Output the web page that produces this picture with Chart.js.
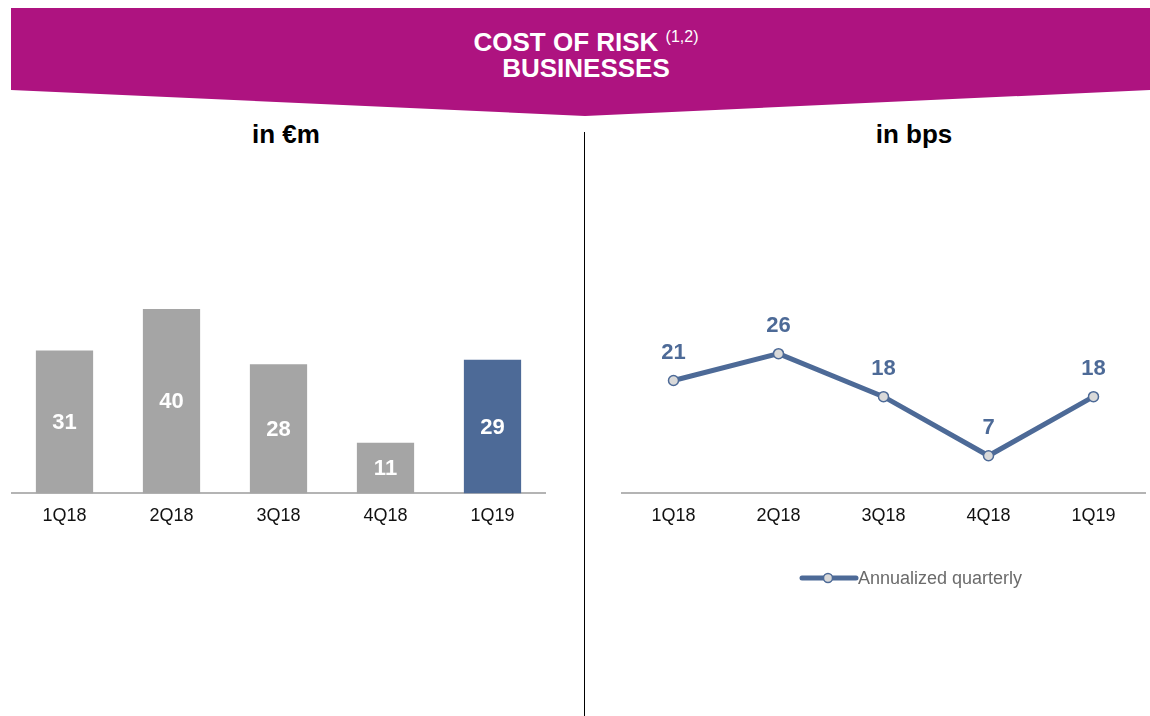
<!DOCTYPE html>
<html>
<head>
<meta charset="utf-8">
<script src="https://cdn.jsdelivr.net/npm/chart.js@4.4.0/dist/chart.umd.min.js"></script>
<style>
    body { margin: 0; width: 1150px; height: 716px; background: #fff; overflow: hidden; position: relative; font-family: "Liberation Sans", Arial, sans-serif; }
    .banner { position: absolute; left: 11px; top: 8px; width: 1139px; height: 108px; background: #ae1380;
        clip-path: polygon(0 0, 100% 0, 100% 82px, 574px 100%, 0 82px); }
    .banner-text { position: absolute; left: 11px; top: 29px; width: 1150px; text-align: center; color: #fff; font-weight: bold; font-size: 26px; line-height: 26px; }
    .banner-text sup { font-size: 16px; font-weight: normal; vertical-align: 9px; line-height: 0; }
    .sub { position: absolute; top: 119px; width: 300px; font-size: 26px; font-weight: bold; color: #000; text-align: center; }
    .divider { position: absolute; left: 584px; top: 132px; width: 1px; height: 584px; background: #000; }
    canvas { position: absolute; }
</style>
</head>
<body>
<div class="banner"></div>
<div class="banner-text">COST OF RISK <sup>(1,2)</sup><br>BUSINESSES</div>
<div class="sub" style="left:136px;">in €m</div>
<div class="sub" style="left:764px;">in bps</div>
<div class="divider"></div>
<div style="position:absolute;left:11px;top:180px;width:535px;height:430px;"><canvas id="barChart"></canvas></div>
<div style="position:absolute;left:621px;top:180px;width:525px;height:430px;"><canvas id="lineChart"></canvas></div>

<script>
const quarters = ["1Q18", "2Q18", "3Q18", "4Q18", "1Q19"];
const costEur = [31, 40, 28, 11, 29];
const costBps = [21, 26, 18, 7, 18];
const bpsSeriesName = "Annualized quarterly";

const grey = "#a5a5a5";
const blue = "#4d6a97";
const font = "'Liberation Sans', Arial, sans-serif";

// values written on the marks
const valueLabels = {
    id: "valueLabels",
    afterDatasetsDraw(chart) {
        const ctx = chart.ctx;
        ctx.save();
        ctx.font = "bold 22px " + font;
        ctx.textAlign = "center";
        ctx.textBaseline = "middle";
        chart.data.datasets.forEach(function (ds, i) {
            chart.getDatasetMeta(i).data.forEach(function (el, j) {
                if (chart.config.type === "bar") {
                    ctx.fillStyle = "#fff";
                    ctx.fillText(ds.data[j], el.x, (el.y + el.base) / 2 + 1);
                } else {
                    ctx.fillStyle = blue;
                    ctx.fillText(ds.data[j], el.x, el.y - 28);
                }
            });
        });
        ctx.restore();
    }
};

// line + marker legend under the line chart
const lineLegend = {
    id: "lineLegend",
    afterDraw(chart) {
        const ctx = chart.ctx;
        const ds = chart.data.datasets[0];
        const y = 398, x0 = 181, x1 = 235, mx = 207;
        ctx.save();
        ctx.strokeStyle = ds.borderColor;
        ctx.lineWidth = 5;
        ctx.lineCap = "round";
        ctx.beginPath();
        ctx.moveTo(x0, y);
        ctx.lineTo(x1, y);
        ctx.stroke();
        ctx.beginPath();
        ctx.arc(mx, y, 4.5, 0, Math.PI * 2);
        ctx.fillStyle = ds.pointBackgroundColor;
        ctx.fill();
        ctx.lineWidth = 1.5;
        ctx.stroke();
        ctx.font = "18px " + font;
        ctx.fillStyle = "#6b6b6b";
        ctx.textAlign = "left";
        ctx.textBaseline = "middle";
        ctx.fillText(ds.label, x1 + 2, y + 1);
        ctx.restore();
    }
};

const xAxis = {
    offset: true,
    grid: { display: false, drawTicks: false, tickLength: 0 },
    border: { display: true, color: "#b4b4b4", width: 2 },
    ticks: { color: "#111", padding: 12, font: { size: 18, family: font } }
};

new Chart(document.getElementById("barChart"), {
    type: "bar",
    data: {
        labels: quarters,
        datasets: [{
            data: costEur,
            backgroundColor: costEur.map(function (v, i) { return i === costEur.length - 1 ? blue : grey; }),
            categoryPercentage: 1,
            barPercentage: 0.535
        }]
    },
    options: {
        responsive: true,
        maintainAspectRatio: false,
        animation: false,
        layout: { autoPadding: false, padding: { top: 0, bottom: 71, left: 0, right: 0 } },
        plugins: { legend: { display: false }, tooltip: { enabled: false } },
        scales: {
            x: xAxis,
            y: { display: false, min: 0, max: 68 }
        }
    },
    plugins: [valueLabels]
});

new Chart(document.getElementById("lineChart"), {
    type: "line",
    data: {
        labels: quarters,
        datasets: [{
            label: bpsSeriesName,
            data: costBps,
            borderColor: blue,
            borderWidth: 5,
            pointRadius: 5,
            pointBorderWidth: 1.5,
            pointBackgroundColor: "#d9d9d9",
            pointBorderColor: blue,
            tension: 0
        }]
    },
    options: {
        responsive: true,
        maintainAspectRatio: false,
        animation: false,
        layout: { autoPadding: false, padding: { top: 0, bottom: 71, left: 0, right: 0 } },
        plugins: { legend: { display: false }, tooltip: { enabled: false } },
        scales: {
            x: xAxis,
            y: { display: false, min: 0, max: 58.3 }
        }
    },
    plugins: [valueLabels, lineLegend]
});
</script>
</body>
</html>
